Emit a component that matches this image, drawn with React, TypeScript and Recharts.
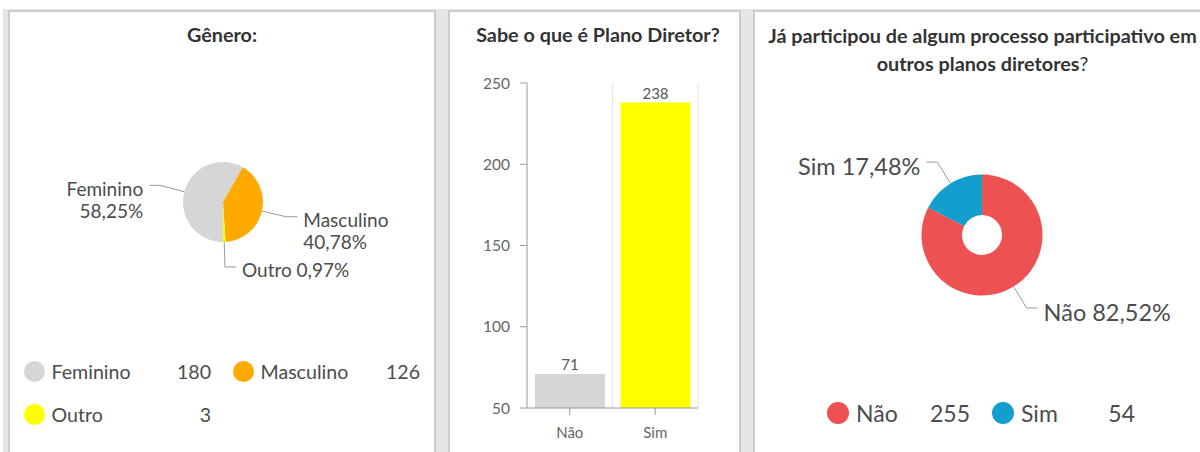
import React from 'react';
import { PieChart, Pie, Cell, BarChart, Bar, XAxis, YAxis, CartesianGrid, LabelList } from 'recharts';

// Gênero
const generoNomes = ['Feminino', 'Masculino', 'Outro'];
const generoValores = [180, 126, 3];
const generoCores = ['#d6d6d6', '#ffaa00', '#ffff00'];

// Sabe o que é Plano Diretor?
const planoCategorias = ['Não', 'Sim'];
const planoValores = [71, 238];
const planoCores = ['#d6d6d6', '#ffff00'];
const planoTicks = [50, 100, 150, 200, 250];

// Já participou ...
const participouNomes = ['Não', 'Sim'];
const participouValores = [255, 54];
const participouCores = ['#ed5151', '#149ece'];

const FONT = 'Lato, "Open Sans", sans-serif';
const TXT = '#4c4c4c';
const RADIAN = Math.PI / 180;
const NO_MARGIN = { top: 0, right: 0, bottom: 0, left: 0 };

const generoData = generoNomes.map((name, i) => ({ name, value: generoValores[i] }));
const planoData = planoCategorias.map((name, i) => ({ name, value: planoValores[i] }));
const participouData = participouNomes.map((name, i) => ({ name, value: participouValores[i] }));

const fmtPct = (p: number) => (p * 100).toFixed(2).replace('.', ',') + '%';

function makeLabel(fontSize: number, textDy: number, wrap: string[]) {
  return (props: any) => {
    const { cx, cy, midAngle, outerRadius, percent, name } = props;
    const cos = Math.cos(-midAngle * RADIAN);
    const sin = Math.sin(-midAngle * RADIAN);
    const sx = cx + outerRadius * cos;
    const sy = cy + outerRadius * sin;
    const mx = cx + (outerRadius + 25) * cos;
    const my = cy + (outerRadius + 25) * sin;
    const dir = cos >= 0 ? 1 : -1;
    const ex = mx + dir * 11;
    const tx = ex + dir * 6;
    const pct = fmtPct(percent);
    const split = wrap.includes(name);
    return (
      <g>
        <polyline points={`${sx},${sy} ${mx},${my} ${ex},${my}`} fill="none" stroke="#9a9a9a" strokeWidth={1} />
        <text x={tx} y={my + textDy} textAnchor={dir > 0 ? 'start' : 'end'} fill={TXT} fontSize={fontSize} fontFamily={FONT}>
          {split ? (
            <>
              <tspan x={tx}>{name}</tspan>
              <tspan x={tx} dy={fontSize * 1.15}>{pct}</tspan>
            </>
          ) : `${name} ${pct}`}
        </text>
      </g>
    );
  };
}

function LegendItem({ left, top, width, color, label, value, r, fontSize }: any) {
  return (
    <div style={{ position: 'absolute', left, top: top - 15, width, height: 30, display: 'flex', alignItems: 'center', fontFamily: FONT, fontSize, color: TXT }}>
      <div style={{ width: r * 2, height: r * 2, borderRadius: '50%', background: color, flex: 'none' }} />
      <span style={{ marginLeft: 7 }}>{label}</span>
      <span style={{ marginLeft: 'auto' }}>{value}</span>
    </div>
  );
}

// grid lines on the category boundaries (not the centres)
const boundaryLines = ({ offset }: any) => {
  const n = planoCategorias.length;
  return planoCategorias.map((_, i) => offset.left + ((i + 1) * offset.width) / n);
};

const panel = (left: number, width: number): React.CSSProperties => ({
  position: 'absolute', left, top: 10, width, height: 460, background: '#fff',
  border: '2px solid #cdcdcd', boxSizing: 'border-box',
});

const title: React.CSSProperties = {
  position: 'absolute', fontFamily: FONT, fontWeight: 700, fontSize: 19.8, color: '#333',
  textAlign: 'center', whiteSpace: 'nowrap',
};

export default function App() {
  return (
    <div style={{ position: 'absolute', left: 0, top: 0, width: 1200, height: 452, overflow: 'hidden', background: '#fff' }}>
      <div style={{ position: 'absolute', left: 3, top: 9, width: 1200, height: 460, background: '#e6e6e6' }} />
      <div style={panel(8, 428)} />
      <div style={panel(448, 293)} />
      <div style={panel(753, 460)} />

      {/* Gênero */}
      <div style={{ ...title, left: 10, width: 424, top: 22, lineHeight: '24px' }}>Gênero:</div>
      <div style={{ position: 'absolute', left: 10, top: 12 }}>
        <PieChart width={424} height={440} margin={NO_MARGIN}>
          <Pie data={generoData} dataKey="value" nameKey="name" cx={213} cy={190} outerRadius={40}
            startAngle={-90} endAngle={-450} stroke="none" isAnimationActive={false}
            labelLine={false} label={makeLabel(19, 10.5, ['Feminino', 'Masculino'])}>
            {generoData.map((d, i) => <Cell key={d.name} fill={generoCores[i]} />)}
          </Pie>
        </PieChart>
      </div>
      {generoNomes.map((n, i) => (
        <LegendItem key={n} left={23.5 + (i % 2) * 209} top={371 + Math.floor(i / 2) * 43} width={187.5}
          color={generoCores[i]} label={n} value={generoValores[i]} r={10.5} fontSize={19.6} />
      ))}

      {/* Sabe o que é Plano Diretor? */}
      <div style={{ ...title, left: 450, width: 296, top: 22, lineHeight: '24px' }}>Sabe o que é Plano Diretor?</div>
      <div style={{ position: 'absolute', left: 450, top: 12 }}>
        <BarChart width={289} height={440} data={planoData} margin={{ top: 71, right: 41, left: 0, bottom: 0 }} barCategoryGap={8}>
          <CartesianGrid horizontal={false} stroke="#e6e6e6" verticalCoordinatesGenerator={boundaryLines} />
          <XAxis dataKey="name" height={44} stroke="#9a9a9a" tickSize={7} tickMargin={12}
            tick={{ fill: '#666', fontSize: 15, fontFamily: FONT }} />
          <YAxis width={77} domain={[50, 250]} ticks={planoTicks} stroke="#9a9a9a" tickSize={7} tickMargin={10}
            tick={{ fill: '#666', fontSize: 15.5, fontFamily: FONT }} allowDataOverflow />
          <Bar dataKey="value" isAnimationActive={false}>
            {planoData.map((d, i) => <Cell key={d.name} fill={planoCores[i]} />)}
            <LabelList dataKey="value" position="top" offset={4} fill="#555" fontSize={15} fontFamily={FONT} />
          </Bar>
        </BarChart>
      </div>

      {/* Já participou */}
      <div style={{ ...title, left: 755, width: 455, top: 21, lineHeight: '28px' }}>
        Já participou de algum processo participativo em<br />outros planos diretores<span style={{ fontWeight: 400 }}>?</span>
      </div>
      <div style={{ position: 'absolute', left: 755, top: 12 }}>
        <PieChart width={455} height={440} margin={NO_MARGIN}>
          <Pie data={participouData} dataKey="value" nameKey="name" cx={227} cy={223} innerRadius={20} outerRadius={60.5}
            startAngle={90} endAngle={-270} stroke="none" isAnimationActive={false}
            labelLine={false} label={makeLabel(23.5, 13, [])}>
            {participouData.map((d, i) => <Cell key={d.name} fill={participouCores[i]} />)}
          </Pie>
        </PieChart>
      </div>
      {participouNomes.map((n, i) => (
        <LegendItem key={n} left={827 + i * 165} top={413} width={143}
          color={participouCores[i]} label={n} value={participouValores[i]} r={11} fontSize={23} />
      ))}
    </div>
  );
}
